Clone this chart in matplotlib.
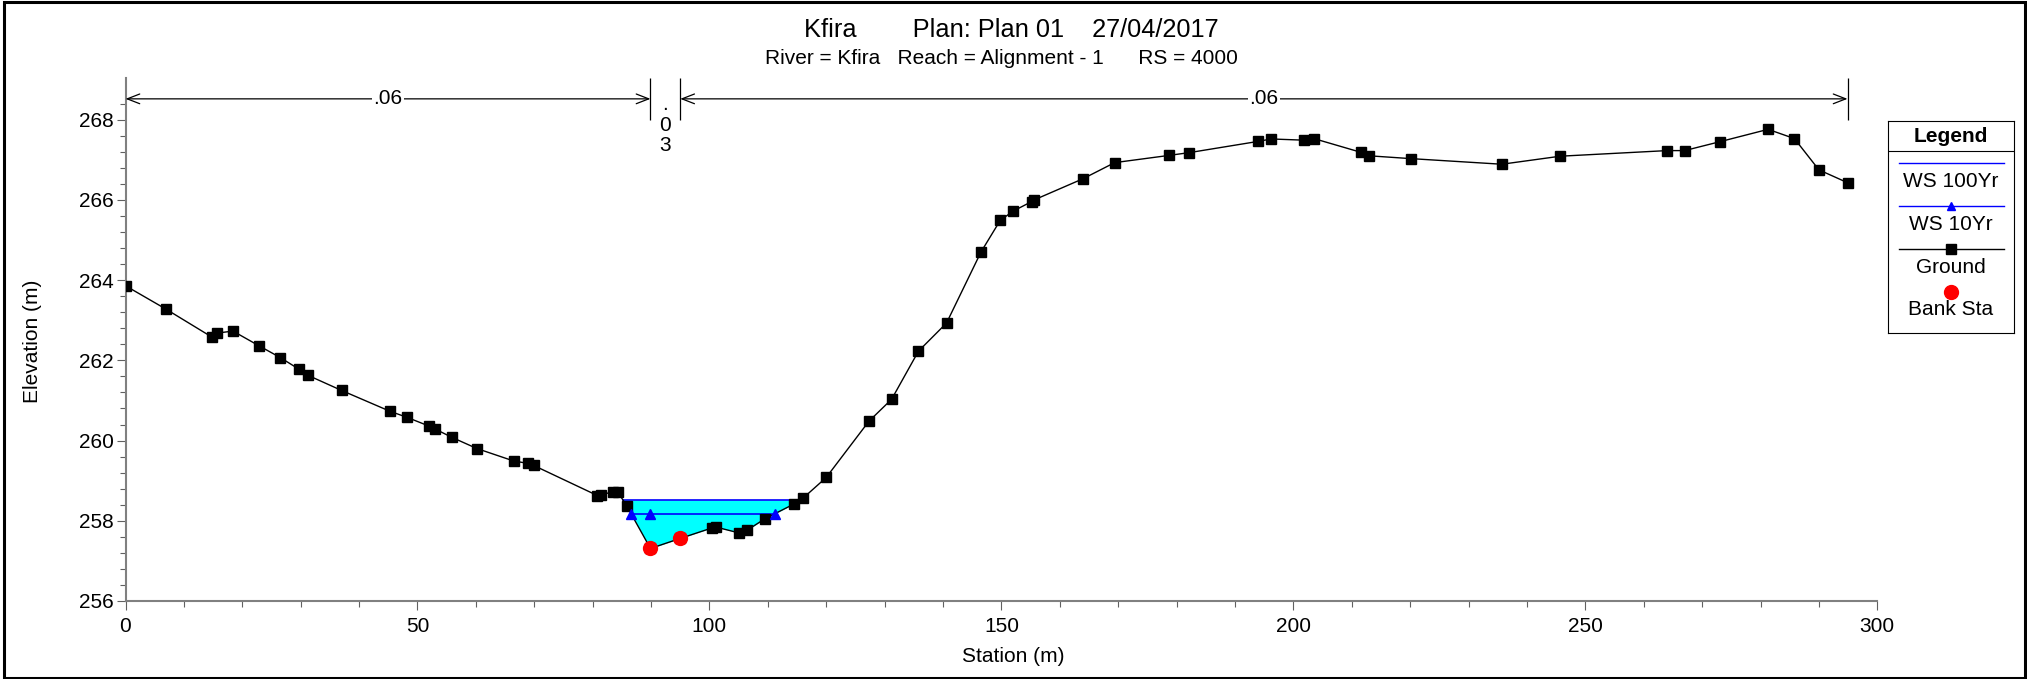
import numpy as np
import matplotlib
matplotlib.use("Agg")
import matplotlib.pyplot as plt
from matplotlib.patches import Rectangle

plt.rcParams['font.family'] = ['Liberation Sans', 'DejaVu Sans']

# ground profile (station m, elevation m)
ground_sta = [0.0, 6.9, 14.8, 15.7, 18.4, 22.9, 26.5, 29.7, 31.2, 37.0, 45.3, 48.2,
              52.0, 53.0, 55.9, 60.2, 66.5, 69.0, 69.9, 80.8, 81.5, 83.4, 84.3, 85.8,
              89.9, 95.0, 100.4, 101.2, 105.0, 106.4, 109.5, 114.5, 116.0, 120.0,
              127.3, 131.2, 135.8, 140.6, 146.5, 149.8, 152.0, 155.2, 155.6, 164.0,
              169.4, 178.7, 182.2, 194.0, 196.2, 201.8, 203.5, 211.5, 213.0, 220.1,
              235.7, 245.7, 264.0, 267.0, 273.0, 281.3, 285.8, 290.0, 294.9]
ground_elev = [263.86, 263.28, 262.58, 262.68, 262.73, 262.36, 262.07, 261.78, 261.63,
               261.25, 260.73, 260.58, 260.36, 260.29, 260.08, 259.80, 259.49, 259.43,
               259.38, 258.63, 258.65, 258.72, 258.72, 258.38, 257.31, 257.56, 257.82,
               257.84, 257.70, 257.76, 258.05, 258.42, 258.56, 259.08, 260.48, 261.03,
               262.23, 262.93, 264.70, 265.49, 265.72, 265.96, 266.00, 266.53, 266.93,
               267.11, 267.18, 267.46, 267.52, 267.49, 267.53, 267.19, 267.10, 267.03,
               266.89, 267.09, 267.23, 267.23, 267.45, 267.76, 267.53, 266.75, 266.43]

bank_sta = [89.9, 95.0]
bank_elev = [257.31, 257.56]

ws_100 = 258.52
ws_10 = 258.18

# roughness (Manning n) zones
n_edges = [0.0, 89.9, 95.0, 294.9]
n_labels = ['.06', '.03', '.06']

g_sta = np.array(ground_sta)
g_elev = np.array(ground_elev)


def ws_extent(level):
    idx = np.where(g_elev < level)[0]
    i0, i1 = idx[0], idx[-1]
    xl = np.interp(level, [g_elev[i0], g_elev[i0 - 1]], [g_sta[i0], g_sta[i0 - 1]])
    xr = np.interp(level, [g_elev[i1], g_elev[i1 + 1]], [g_sta[i1], g_sta[i1 + 1]])
    return xl, xr


W, H = 2027, 679
fig = plt.figure(figsize=(W / 100, H / 100), dpi=100)
ax = fig.add_axes([125.5 / W, 1 - 601 / H, (1877.3 - 125.5) / W, (601 - 77.6) / H])

ax.fill_between(g_sta, g_elev, ws_100, where=g_elev < ws_100, interpolate=True,
                color='#00FFFF', lw=0, zorder=1)

x100 = ws_extent(ws_100)
ax.plot(x100, [ws_100, ws_100], color='#0000FF', lw=1.2, zorder=2)
x10 = ws_extent(ws_10)
ax.plot(x10, [ws_10, ws_10], color='#0000FF', lw=1.2, zorder=2)
ax.plot([x10[0], bank_sta[0], x10[1]], [ws_10] * 3, ls='none', marker='^',
        color='#0000FF', ms=7, zorder=5)

ax.plot(ground_sta, ground_elev, color='black', lw=1.0, marker='s', ms=7.5, zorder=3)
ax.plot(bank_sta, bank_elev, ls='none', marker='o', color='#FF0000', ms=10, zorder=4)

# roughness arrows
y_arr = 268.52
ax.vlines(n_edges[1:], 268.0, 269.05, color='black', lw=0.9)
for i, lab in enumerate(n_labels):
    a, b = n_edges[i], n_edges[i + 1]
    if b - a > 20:
        ax.annotate('', xy=(a, y_arr), xytext=(b, y_arr),
                    arrowprops=dict(arrowstyle='<->,head_length=0.9,head_width=0.35',
                                    lw=0.9, color='black', shrinkA=0, shrinkB=0))
        ax.text((a + b) / 2, y_arr, lab, ha='center', va='center', fontsize=15,
                bbox=dict(fc='white', ec='none', pad=1))
    else:
        for k, ch in enumerate(lab):
            ax.text((a + b) / 2, 268.23 - 0.5 * k, ch, ha='center', va='baseline',
                    fontsize=15)

ax.set_xlim(0, 300)
ax.set_ylim(256, 269.05)
ax.set_xticks(np.arange(0, 301, 50))
ax.set_xticks(np.arange(0, 301, 10), minor=True)
ax.set_yticks(np.arange(256, 269, 2))
ax.set_yticks(np.arange(256, 268.5, 0.4), minor=True)
for s in ['top', 'right']:
    ax.spines[s].set_visible(False)
for s in ['left', 'bottom']:
    ax.spines[s].set_color('#808080')
    ax.spines[s].set_linewidth(1.5)
ax.tick_params(which='major', length=6.5, width=0.8, color='#606060', labelsize=15)
ax.tick_params(which='minor', length=4, width=0.8, color='#606060')
ax.tick_params(axis='y', which='major', pad=2)
ax.tick_params(axis='x', which='major', pad=5)

fig.text(32 / W, 1 - 341 / H, 'Elevation (m)', rotation=90, ha='center', va='center',
         fontsize=15)
fig.text(1013 / W, 1 - 657 / H, 'Station (m)', ha='center', va='center', fontsize=15)

fig.text(1011.5 / W, 1 - 37.3 / H, 'Kfira        Plan: Plan 01    27/04/2017',
         ha='center', va='baseline', fontsize=18.3)
fig.text(1001.5 / W, 1 - 64.5 / H, 'River = Kfira   Reach = Alignment - 1      RS = 4000',
         ha='center', va='baseline', fontsize=15)

# legend panel
lg = fig.add_axes([1888 / W, 1 - 332.7 / H, 126 / W, 211.7 / H])
lg.set_xlim(0, 126)
lg.set_ylim(211.7, 0)
lg.set_xticks([])
lg.set_yticks([])
for s in lg.spines.values():
    s.set_linewidth(0.8)
lg.axhline(29.7, color='black', lw=0.8)
lg.text(63, 15, 'Legend', ha='center', va='center', fontsize=15, fontweight='bold')
lg.plot([10.7, 116.3], [41.7, 41.7], color='#0000FF', lw=1.0)
lg.text(63, 60.7, 'WS 100Yr', ha='center', va='center', fontsize=15)
lg.plot([10.7, 116.3], [85, 85], color='#0000FF', lw=1.0)
lg.plot([63], [85], marker='^', color='#0000FF', ms=6)
lg.text(63, 104, 'WS 10Yr', ha='center', va='center', fontsize=15)
lg.plot([10.7, 116.3], [127.7, 127.7], color='black', lw=1.0)
lg.plot([63], [127.7], marker='s', color='black', ms=7)
lg.text(63, 146.3, 'Ground', ha='center', va='center', fontsize=15)
lg.plot([63], [170.7], marker='o', color='#FF0000', ms=10)
lg.text(63, 188.3, 'Bank Sta', ha='center', va='center', fontsize=15)

fig.patches.append(Rectangle((4 / W, 1.5 / H), (2025 - 4) / W, (677 - 1.5) / H,
                             transform=fig.transFigure, fill=False, ec='black', lw=2.2))

plt.savefig('out.png', dpi=100)
